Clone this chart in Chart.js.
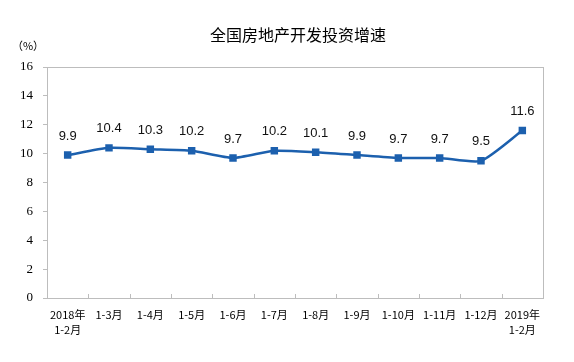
<!DOCTYPE html>
<html>
<head>
<meta charset="utf-8">
<script src="https://cdn.jsdelivr.net/npm/chart.js@4.4.1/dist/chart.umd.min.js"></script>
<style>
    html, body { margin: 0; padding: 0; background: #fff; }
    #wrap { width: 574px; height: 362px; }
</style>
</head>
<body>
<div id="wrap"><canvas id="chartInvest"></canvas></div>
<script>
var titleText = '全国房地产开发投资增速';
var unitText = '（%）';
var months = [
    ['2018年', '1-2月'], '1-3月', '1-4月', '1-5月', '1-6月', '1-7月',
    '1-8月', '1-9月', '1-10月', '1-11月', '1-12月', ['2019年', '1-2月']
];
var growth = [9.9, 10.4, 10.3, 10.2, 9.7, 10.2, 10.1, 9.9, 9.7, 9.7, 9.5, 11.6];
var yTicks = [0, 2, 4, 6, 8, 10, 12, 14, 16];

var blue = '#1c60ae';
var frameColor = '#bdbdbd';

// title, unit, frame, inside x ticks and value labels
var extras = {
    id: 'extras',
    afterDraw: function(chart) {
        var ctx = chart.ctx;
        var area = chart.chartArea;
        ctx.save();

        ctx.strokeStyle = frameColor;
        ctx.lineWidth = 1;
        ctx.strokeRect(Math.round(area.left) + 0.5, Math.round(area.top) + 0.5,
            Math.round(area.right - area.left), Math.round(area.bottom - area.top));

        // small tick marks between categories, pointing up into the plot
        var xs = chart.scales.x;
        ctx.beginPath();
        for (var i = 1; i < months.length; i++) {
            var x = Math.round((xs.getPixelForValue(i - 1) + xs.getPixelForValue(i)) / 2) + 0.5;
            ctx.moveTo(x, area.bottom);
            ctx.lineTo(x, area.bottom - 4);
        }
        ctx.stroke();

        ctx.fillStyle = '#000';
        ctx.textAlign = 'center';
        ctx.textBaseline = 'middle';
        ctx.font = '16px "Noto Sans CJK SC"';
        ctx.fillText(titleText, 298, 35);

        ctx.font = '11px "Noto Sans CJK SC"';
        ctx.fillText(unitText, 28, 46);

        ctx.font = '13px "Liberation Sans", Arial';
        ctx.fillStyle = '#111';
        var meta = chart.getDatasetMeta(0);
        meta.data.forEach(function(pt, idx) {
            ctx.fillText(growth[idx].toFixed(1), pt.x, pt.y - 19);
        });
        ctx.restore();
    }
};

new Chart(document.getElementById('chartInvest'), {
    type: 'line',
    data: {
        labels: months,
        datasets: [{
            label: titleText,
            data: growth,
            borderColor: blue,
            backgroundColor: blue,
            borderWidth: 2.5,
            tension: 0.2,
            pointStyle: 'rect',
            pointRadius: 3.5,
            pointHoverRadius: 3.5
        }]
    },
    options: {
        responsive: true,
        maintainAspectRatio: false,
        animation: false,
        events: [],
        layout: { padding: { top: 67, right: 31, left: 0, bottom: 0 } },
        plugins: {
            legend: { display: false },
            title: { display: false },
            tooltip: { enabled: false }
        },
        scales: {
            x: {
                offset: true,
                grid: { display: false, drawTicks: false },
                border: { display: true, color: frameColor },
                ticks: {
                    color: '#000',
                    padding: 10,
                    maxRotation: 0,
                    autoSkip: false,
                    font: { family: '"Noto Sans CJK SC"', size: 11, lineHeight: 1.3 }
                },
                afterFit: function(scale) { scale.height = 64; }
            },
            y: {
                min: 0,
                max: 16,
                afterBuildTicks: function(scale) {
                    scale.ticks = yTicks.map(function(v) { return { value: v }; });
                },
                grid: { drawOnChartArea: false, tickLength: 4, color: frameColor },
                border: { display: true, color: frameColor },
                ticks: {
                    color: '#000',
                    padding: 10,
                    font: { family: '"Liberation Serif"', size: 13 }
                },
                afterFit: function(scale) { scale.width = 47; }
            }
        }
    },
    plugins: [extras]
});
</script>
</body>
</html>
